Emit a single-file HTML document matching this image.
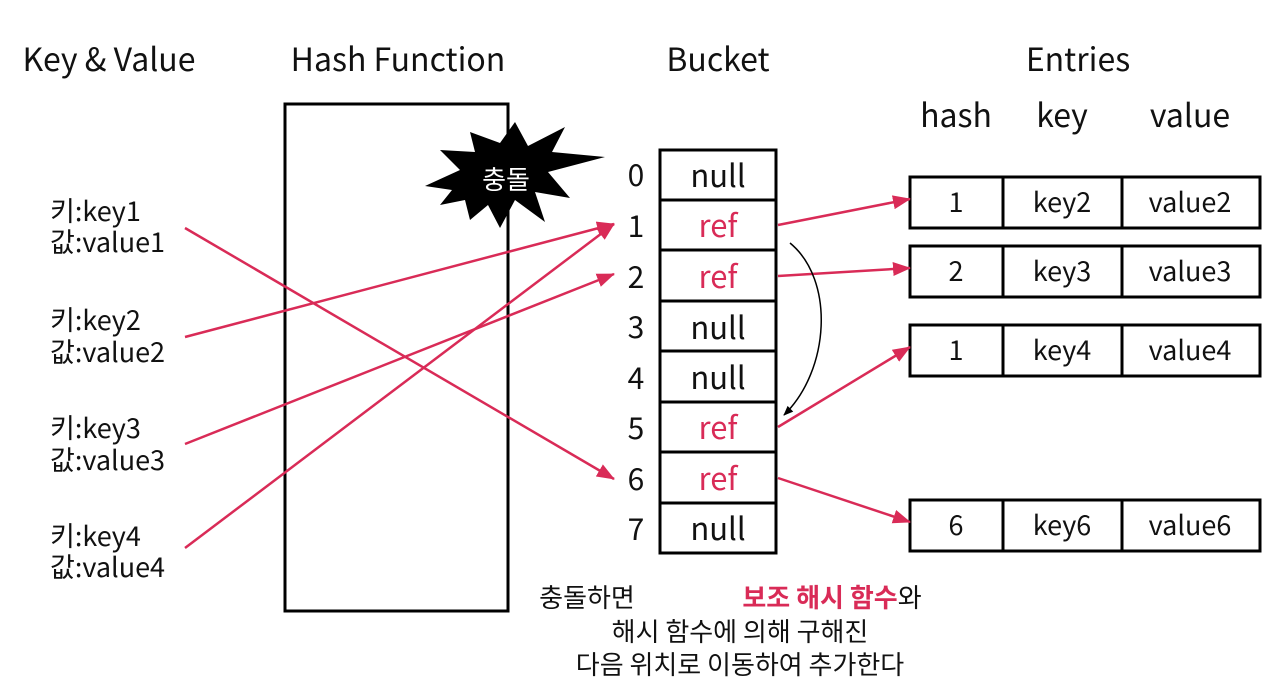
<!DOCTYPE html>
<html><head><meta charset="utf-8"><style>
body{margin:0;background:#fff;}
svg{display:block;font-family:"Noto Sans CJK KR","Liberation Sans",sans-serif;}
</style></head><body>
<svg width="1280" height="682" viewBox="0 0 1280 682" xmlns="http://www.w3.org/2000/svg">
<defs>
<marker id="ar" viewBox="0 0 18 14" refX="17" refY="7" markerWidth="18" markerHeight="14" orient="auto" markerUnits="userSpaceOnUse">
<path d="M0,0 L18,7 L0,14 z" fill="#d92b57"/>
</marker>
<marker id="bk" viewBox="0 0 10 10" refX="9" refY="5" markerWidth="10" markerHeight="10" orient="auto" markerUnits="userSpaceOnUse">
<path d="M0,1 L10,5 L0,9 z" fill="#000"/>
</marker>
</defs>
<g font-size="32" fill="#111" text-anchor="middle">
<text x="109" y="71">Key &amp; Value</text>
<text x="398" y="71">Hash Function</text>
<text x="718" y="71">Bucket</text>
<text x="1078" y="71">Entries</text>
<text x="956" y="127">hash</text>
<text x="1062" y="127">key</text>
<text x="1190" y="127">value</text>
</g>
<rect x="285" y="104" width="223" height="507" fill="none" stroke="#000" stroke-width="3"/>
<polygon points="425,186 460,170 440,150 475,152 470,132 500,143 515,122 528,146 565,127 552,152 605,157 548,172 570,198 535,192 545,222 515,200 500,228 488,205 470,220 465,200 440,205 452,190" fill="#000"/>
<text x="506" y="189" font-size="26" fill="#fff" text-anchor="middle">충돌</text>
<g stroke="#000" stroke-width="3" fill="#fff">
<rect x="660" y="150" width="116" height="403"/>
<line x1="660" y1="200" x2="776" y2="200"/><line x1="660" y1="250" x2="776" y2="250"/>
<line x1="660" y1="301" x2="776" y2="301"/><line x1="660" y1="351" x2="776" y2="351"/>
<line x1="660" y1="402" x2="776" y2="402"/><line x1="660" y1="452" x2="776" y2="452"/>
<line x1="660" y1="503" x2="776" y2="503"/>
</g>
<g font-size="30" text-anchor="middle" fill="#111">
<text x="636" y="186">0</text><text x="636" y="237">1</text><text x="636" y="288">2</text><text x="636" y="338">3</text>
<text x="636" y="389">4</text><text x="636" y="439">5</text><text x="636" y="490">6</text><text x="636" y="540">7</text>
</g>
<g font-size="31" text-anchor="middle" fill="#111">
<text x="718" y="187">null</text>
<text x="718" y="237" fill="#d92b57">ref</text>
<text x="718" y="288" fill="#d92b57">ref</text>
<text x="718" y="339">null</text>
<text x="718" y="389">null</text>
<text x="718" y="439" fill="#d92b57">ref</text>
<text x="718" y="490" fill="#d92b57">ref</text>
<text x="718" y="540">null</text>
</g>
<g stroke="#000" stroke-width="3" fill="none">
<rect x="910" y="177" width="350" height="51"/><line x1="1003" y1="177" x2="1003" y2="228"/><line x1="1122" y1="177" x2="1122" y2="228"/>
<rect x="910" y="246" width="350" height="51"/><line x1="1003" y1="246" x2="1003" y2="297"/><line x1="1122" y1="246" x2="1122" y2="297"/>
<rect x="910" y="325" width="350" height="51"/><line x1="1003" y1="325" x2="1003" y2="376"/><line x1="1122" y1="325" x2="1122" y2="376"/>
<rect x="910" y="500" width="350" height="51"/><line x1="1003" y1="500" x2="1003" y2="551"/><line x1="1122" y1="500" x2="1122" y2="551"/>
</g>
<g font-size="27" text-anchor="middle" fill="#111">
<text x="956" y="212">1</text><text x="1062" y="212">key2</text><text x="1190" y="212">value2</text>
<text x="956" y="281">2</text><text x="1062" y="281">key3</text><text x="1190" y="281">value3</text>
<text x="956" y="360">1</text><text x="1062" y="360">key4</text><text x="1190" y="360">value4</text>
<text x="956" y="535">6</text><text x="1062" y="535">key6</text><text x="1190" y="535">value6</text>
</g>
<g font-size="27" fill="#111">
<text x="50" y="221">키:key1</text><text x="50" y="252">값:value1</text>
<text x="50" y="330">키:key2</text><text x="50" y="362">값:value2</text>
<text x="50" y="438">키:key3</text><text x="50" y="470">값:value3</text>
<text x="50" y="546">키:key4</text><text x="50" y="577">값:value4</text>
</g>
<g stroke="#d92b57" stroke-width="2.5" fill="none" marker-end="url(#ar)">
<line x1="185" y1="228" x2="614" y2="479"/>
<line x1="185" y1="337" x2="614" y2="224"/>
<line x1="185" y1="444" x2="614" y2="274"/>
<line x1="185" y1="548" x2="614" y2="224"/>
<line x1="778" y1="225" x2="910" y2="199"/>
<line x1="778" y1="276" x2="910" y2="268"/>
<line x1="778" y1="427" x2="910" y2="347"/>
<line x1="778" y1="478" x2="910" y2="522"/>
</g>
<path d="M790,243 C835,280 830,370 784,415" stroke="#000" stroke-width="1.5" fill="none" marker-end="url(#bk)"/>
<g font-size="26" text-anchor="middle" fill="#111">
<text x="587" y="607">충돌하면</text>
<text x="832" y="607"><tspan fill="#d92b57" font-weight="bold">보조 해시 함수</tspan>와</text>
<text x="740" y="641">해시 함수에 의해 구해진</text>
<text x="740" y="674">다음 위치로 이동하여 추가한다</text>
</g>
</svg>
</body></html>
